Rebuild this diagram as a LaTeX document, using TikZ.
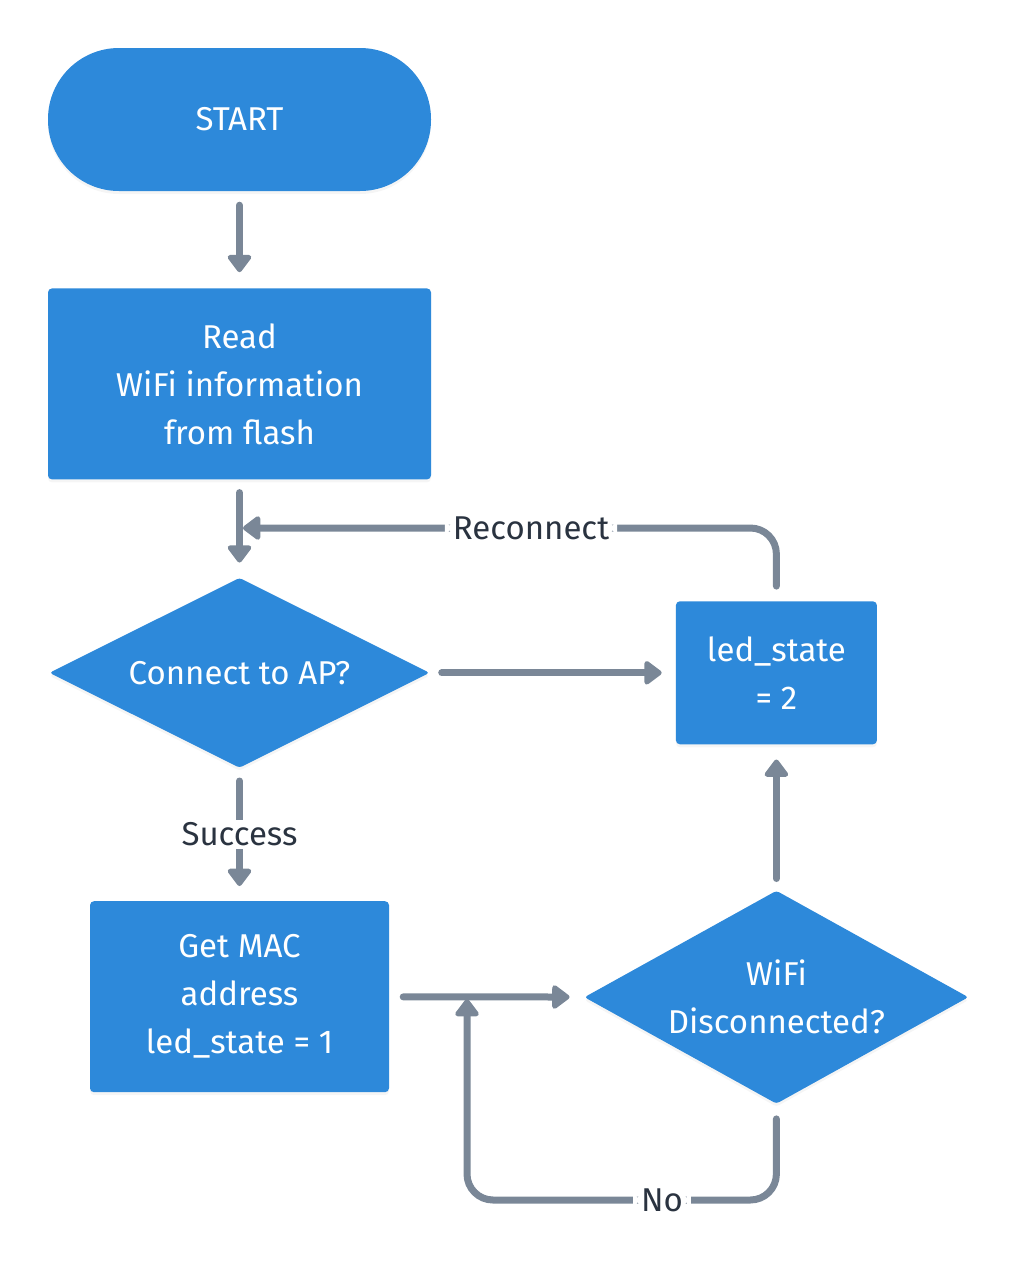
\documentclass[tikz,border=0pt]{standalone}
\usepackage{fontspec}
\setmainfont{Fira Sans}
\usetikzlibrary{positioning,calc,arrows.meta,shapes.geometric,shadows}
\definecolor{boxblue}{HTML}{2D89DA}
\definecolor{linegray}{HTML}{7A8797}
\definecolor{labeltext}{HTML}{2A3340}
\tikzset{
  every node/.style={font=\fontsize{33}{48}\selectfont},
  block/.style={fill=boxblue, text=white, align=center, rounded corners=4pt,
    drop shadow={shadow xshift=0pt, shadow yshift=-3pt, opacity=0.08}},
  decision/.style={block, diamond, aspect=2, inner sep=0pt, rounded corners=3pt},
  flow/.style={draw=linegray, line width=7pt, line cap=round,
    -{Triangle[length=19pt, width=27pt, round]}},
  lbl/.style={fill=white, draw=white, line width=2pt, text=labeltext, inner xsep=7pt, inner ysep=2pt},
}
\begin{document}
\begin{tikzpicture}[x=1pt, y=1pt]
\useasboundingbox (0,0) rectangle (1020,-1280);
\node[block, rounded corners=71pt, minimum width=383pt, minimum height=143pt] (start) at (239.5,-119.5) {START};
\node[block, minimum width=383pt, minimum height=191pt, below=97pt of start] (read) {Read\\WiFi information\\from flash};
\node[decision, minimum width=380pt, minimum height=190pt, below=98pt of read] (connect) {Connect to AP?};
\node[block, minimum width=201pt, minimum height=143pt, right=246pt of connect] (led) {led\_state\\= 2};
\node[block, minimum width=299pt, minimum height=191pt, below=133pt of connect] (mac) {Get MAC\\address\\led\_state = 1};
\node[decision, aspect=1.8, minimum width=384pt, minimum height=213pt, below=146pt of led] (wifi) {WiFi\\Disconnected?};
\coordinate (rejoin) at (243,-528);
\coordinate (nojoin) at (467,-999);
\draw[flow, shorten <=14pt, shorten >=16pt] (start) -- (read);
\draw[flow, shorten <=13pt, shorten >=15pt] (read) -- (connect);
\draw[flow, shorten <=12pt, shorten >=14pt] (connect) -- (led);
\draw[flow, shorten <=13pt, shorten >=15pt] (connect) -- node[lbl] {Success} (mac);
\draw[flow, shorten <=14pt, shorten >=15pt] (mac) -- (wifi);
\draw[flow, shorten <=12pt, shorten >=15pt] (wifi) -- (led);
\draw[flow, rounded corners=26pt, shorten <=15pt, shorten >=0pt] (led.north) |- node[lbl, pos=0.73] {Reconnect} (rejoin);
\draw[flow, rounded corners=26pt, shorten <=15pt, shorten >=0pt] (wifi.south) -- (wifi.south |- 0,-1200) -| node[lbl, pos=0.185] {No} (nojoin);
\end{tikzpicture}
\end{document}
